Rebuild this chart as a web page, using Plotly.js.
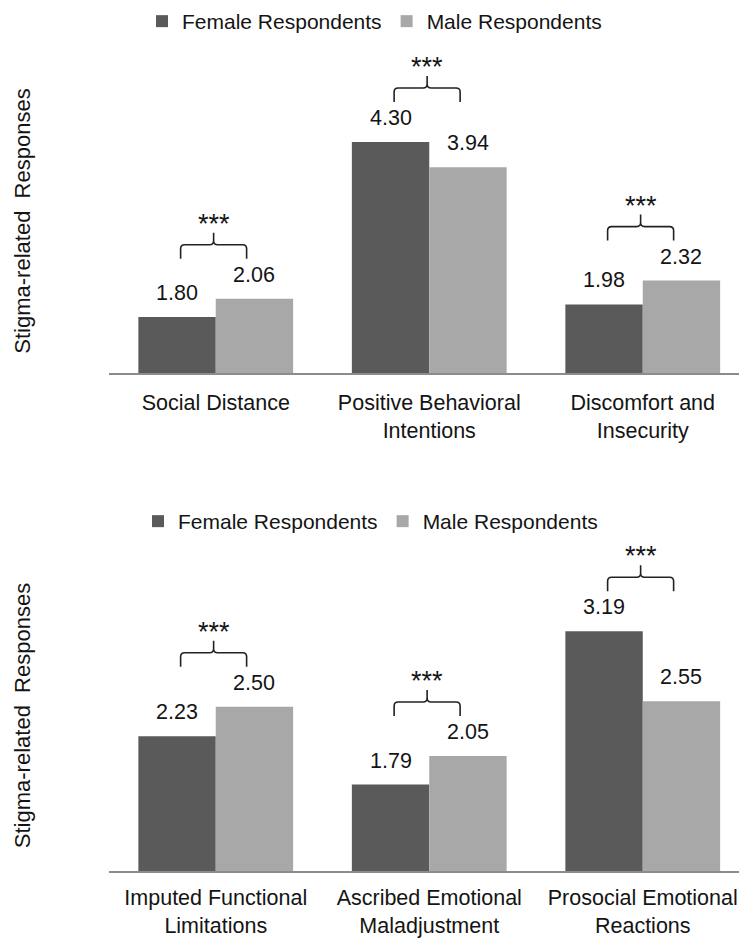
<!DOCTYPE html>
<html><head><meta charset="utf-8">
<script src="https://cdn.plot.ly/plotly-3.0.1.min.js"></script>
<style>html,body{margin:0;padding:0;background:#fff;}#chart{width:739px;height:949px;}</style>
</head><body><div id="chart"></div>
<script>
// ---- data ----
const seriesNames = ['Female Respondents', 'Male Respondents'];
const categoriesTop = ['Social Distance', 'Positive Behavioral<br>Intentions', 'Discomfort and<br>Insecurity'];
const femaleTop = [1.80, 4.30, 1.98];
const maleTop = [2.06, 3.94, 2.32];
const signifTop = ['***', '***', '***'];
const categoriesBottom = ['Imputed Functional<br>Limitations', 'Ascribed Emotional<br>Maladjustment', 'Prosocial Emotional<br>Reactions'];
const femaleBottom = [2.23, 1.79, 3.19];
const maleBottom = [2.50, 2.05, 2.55];
const signifBottom = ['***', '***', '***'];
const yTitle = 'Stigma-related\u00a0 Responses';

// ---- styles ----
const W = 739, H = 949;
const FONT = "'Liberation Sans', Arial, sans-serif";
const TXT = '#141414';
const colFemale = '#5a5a5a', colMale = '#a8a8a8';
const bargap = 0.275;
const half = (1 - bargap) / 4; // offset of each bar centre from category centre
const plotLeft = 109;
const xRange = [-0.5, -0.5 + (W - plotLeft) / 213.5];
// panel pixel boxes (top, bottom)
const topBox = {top: 69, bottom: 373}, botBox = {top: 560, bottom: 871};
const dom = b => [(H - b.bottom) / H, (H - b.top) / H];
const yRangeTop = [1, 1 + (topBox.bottom - topBox.top) / 70];
const yRangeBot = [1, 1 + (botBox.bottom - botBox.top) / 109.5];

function bars(cats, f, m, xa, ya, lg) {
  return [
    {type: 'bar', name: seriesNames[0], x: cats, y: f, xaxis: xa, yaxis: ya, legend: lg,
     marker: {color: colFemale}, hoverinfo: 'skip'},
    {type: 'bar', name: seriesNames[1], x: cats, y: m, xaxis: xa, yaxis: ya, legend: lg,
     marker: {color: colMale}, hoverinfo: 'skip'}
  ];
}
const data = [
  ...bars(categoriesTop, femaleTop, maleTop, 'x', 'y', 'legend'),
  ...bars(categoriesBottom, femaleBottom, maleBottom, 'x2', 'y2', 'legend2')
];

const annotations = [], shapes = [];
const bracePath = 'M-33,40L-33,50Q-33,54 -29,54L-4,54Q0,54 0,58L0,66M0,58Q0,54 4,54L29,54Q33,54 33,50L33,40';
function decorate(f, m, sig, xr, yr) {
  f.forEach((v, i) => {
    const vals = [v, m[i]];
    vals.forEach((val, s) => {
      annotations.push({xref: xr, yref: yr, x: i + (s === 0 ? -half : half), y: val,
        text: val.toFixed(2), showarrow: false, yshift: 24,
        font: {family: FONT, size: 21.5, color: TXT}});
    });
    const top = Math.max(v, m[i]);
    shapes.push({type: 'path', xref: xr, yref: yr, xsizemode: 'pixel', ysizemode: 'pixel',
      xanchor: i - 0.01, yanchor: top, path: bracePath,
      line: {color: '#222', width: 1.6}});
    annotations.push({xref: xr, yref: yr, x: i - 0.01, y: top, text: sig[i], showarrow: false,
      yshift: 75, font: {family: FONT, size: 27, color: TXT}});
  });
}
decorate(femaleTop, maleTop, signifTop, 'x', 'y');
decorate(femaleBottom, maleBottom, signifBottom, 'x2', 'y2');

const xBase = {type: 'category', range: xRange, showgrid: false, zeroline: false,
  showline: true, linecolor: '#8c8c8c', linewidth: 2, ticks: '', tickangle: 0,
  tickfont: {family: FONT, size: 21.5, color: TXT}, fixedrange: true};
const yBase = {showgrid: false, zeroline: false, showline: false, ticks: '', showticklabels: false,
  title: {text: yTitle, font: {family: FONT, size: 22, color: TXT}, standoff: 71}, fixedrange: true};
const legBase = {orientation: 'h', xanchor: 'left', yanchor: 'top', bgcolor: 'rgba(0,0,0,0)',
  font: {family: FONT, size: 21, color: TXT}, traceorder: 'normal'};

const layout = {
  width: W, height: H, margin: {l: plotLeft, r: 0, t: 0, b: 0},
  paper_bgcolor: '#fff', plot_bgcolor: '#fff', showlegend: true,
  barmode: 'group', bargap: bargap, bargroupgap: 0,
  xaxis: Object.assign({}, xBase, {anchor: 'y', ticklabelstandoff: 9}),
  yaxis: Object.assign({}, yBase, {domain: dom(topBox), range: yRangeTop, anchor: 'x'}),
  xaxis2: Object.assign({}, xBase, {anchor: 'y2', ticklabelstandoff: 6}),
  yaxis2: Object.assign({}, yBase, {domain: dom(botBox), range: yRangeBot, anchor: 'x2'}),
  legend: Object.assign({}, legBase, {x: (142 - plotLeft) / (W - plotLeft), y: (H - 1) / H}),
  legend2: Object.assign({}, legBase, {x: (138 - plotLeft) / (W - plotLeft), y: (H - 501) / H}),
  annotations: annotations, shapes: shapes
};
Plotly.newPlot('chart', data, layout, {displayModeBar: false, staticPlot: true});
</script></body></html>
